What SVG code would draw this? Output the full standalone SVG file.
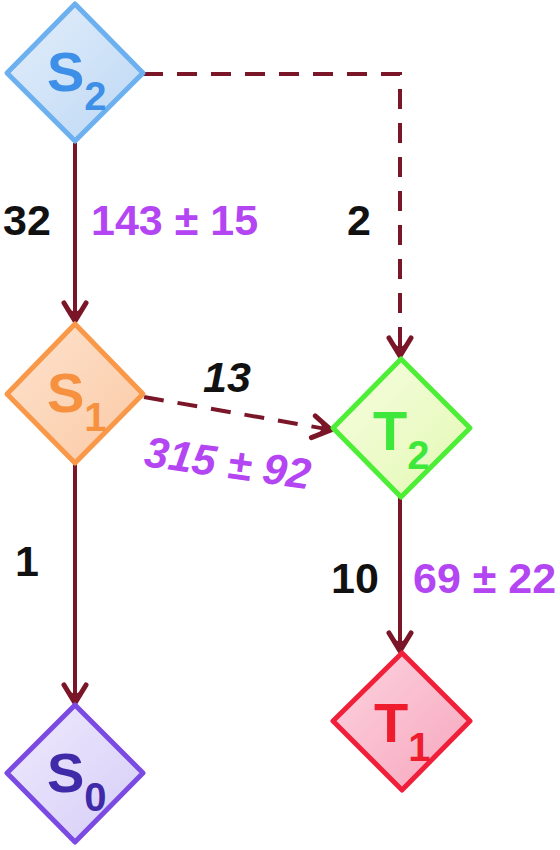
<svg xmlns="http://www.w3.org/2000/svg" width="560" height="850" viewBox="0 0 560 850">
<style>
.lbl{font-family:"Liberation Sans",Arial,sans-serif;font-weight:bold;}
.k{fill:#111;font-size:43px;}
.p{fill:#b445f2;font-size:43px;}
.big{font-size:56px;}
.sub{font-size:40px;}
.ln{stroke:#7a1628;stroke-width:4;fill:none;}
.dash{stroke-dasharray:20 14;}
</style>
<defs>
<marker id="ah" viewBox="-26 -15 30 30" refX="0" refY="0" markerWidth="30" markerHeight="30" orient="auto" markerUnits="userSpaceOnUse" overflow="visible">
<path d="M-19,-11 L-1,0 L-19,11" fill="none" stroke="#7a1628" stroke-width="5" stroke-linecap="round" stroke-linejoin="round"/>
<path d="M0,0 L-13,-7 L-10,0 L-13,7 Z" fill="#7a1628"/>
</marker>
<linearGradient id="gS2" x1="0" y1="0" x2="1" y2="1"><stop offset="0" stop-color="#e4effb"/><stop offset="1" stop-color="#bcd7f4"/></linearGradient>
<linearGradient id="gS1" x1="0" y1="0" x2="1" y2="1"><stop offset="0" stop-color="#fde3cf"/><stop offset="1" stop-color="#fbc9a4"/></linearGradient>
<linearGradient id="gT2" x1="0" y1="0" x2="1" y2="1"><stop offset="0" stop-color="#f6fde0"/><stop offset="1" stop-color="#e4f9b4"/></linearGradient>
<linearGradient id="gT1" x1="0" y1="0" x2="1" y2="1"><stop offset="0" stop-color="#fcd3df"/><stop offset="1" stop-color="#f7a6bd"/></linearGradient>
<linearGradient id="gS0" x1="0" y1="0" x2="1" y2="1"><stop offset="0" stop-color="#efeafd"/><stop offset="1" stop-color="#d6cdf7"/></linearGradient>
</defs>
<rect width="560" height="850" fill="#fff"/>
<g id="connectors">
<path class="ln" d="M75,143 L75,322" marker-end="url(#ah)"/>
<path class="ln dash" d="M143,74 L400,74 L400,357" marker-end="url(#ah)"/>
<path class="ln dash" d="M144,397 L332,430" marker-end="url(#ah)"/>
<path class="ln" d="M75,464 L75,704" marker-end="url(#ah)"/>
<path class="ln" d="M400,497 L400,652" marker-end="url(#ah)"/>
</g>
<g id="labels" class="lbl">
<text class="k" x="3" y="235">32</text>
<text class="p" x="91" y="235">143 ± 15</text>
<text class="k" x="347" y="235">2</text>
<text class="k" x="203" y="392" font-style="italic">13</text>
<text class="p" x="143" y="466" font-style="italic" transform="rotate(8 143 466)">315 ± 92</text>
<text class="k" x="15" y="576">1</text>
<text class="k" x="331" y="593">10</text>
<text class="p" x="413" y="593">69 ± 22</text>
</g>
<g id="S2">
<path d="M75,4 L143,73 L75,141 L7,73 Z" fill="url(#gS2)" stroke="#6cb0f0" stroke-width="5" stroke-linejoin="round"/>
<text class="lbl" fill="#3d8fe8" x="47" y="91"><tspan class="big">S</tspan><tspan class="sub" dy="19">2</tspan></text>
</g>
<g id="S1">
<path d="M75,324 L143,394 L75,463 L7,394 Z" fill="url(#gS1)" stroke="#f99848" stroke-width="5" stroke-linejoin="round"/>
<text class="lbl" fill="#f5913f" x="47" y="412"><tspan class="big">S</tspan><tspan class="sub" dy="19">1</tspan></text>
</g>
<g id="T2">
<path d="M401,359 L470,428 L401,497 L333,428 Z" fill="url(#gT2)" stroke="#4cee36" stroke-width="5" stroke-linejoin="round"/>
<text class="lbl" fill="#3ee83a" x="373" y="450"><tspan class="big">T</tspan><tspan class="sub" dy="19">2</tspan></text>
</g>
<g id="T1">
<path d="M402,653 L470,721 L402,790 L333,721 Z" fill="url(#gT1)" stroke="#f0203a" stroke-width="5" stroke-linejoin="round"/>
<text class="lbl" fill="#ee1c2c" x="374" y="742"><tspan class="big">T</tspan><tspan class="sub" dy="19">1</tspan></text>
</g>
<g id="S0">
<path d="M75,705 L143,773 L75,842 L7,773 Z" fill="url(#gS0)" stroke="#7b4ae2" stroke-width="5" stroke-linejoin="round"/>
<text class="lbl" fill="#3f2aa8" x="47" y="792"><tspan class="big">S</tspan><tspan class="sub" dy="19">0</tspan></text>
</g>
</svg>
